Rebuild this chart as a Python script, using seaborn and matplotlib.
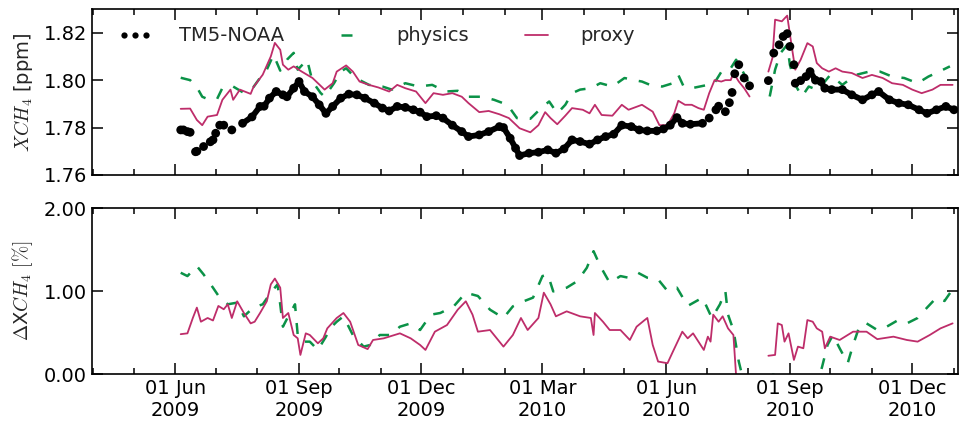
import numpy as np
import pandas as pd
import matplotlib
matplotlib.use("Agg")
import matplotlib.pyplot as plt
import matplotlib.dates as mdates
from matplotlib.lines import Line2D
from matplotlib.ticker import FormatStrFormatter
import seaborn as sns

# ---------------- data (days since 2009-06-01) ----------------
START = pd.Timestamp("2009-06-01")

tm5_day = [4, 6, 9, 11, 15, 16, 21, 26, 28, 30, 33, 36, 42, 50, 57, 63, 66, 70, 75, 80,
           83, 88, 92, 96, 102, 107, 112, 117, 123, 129, 135, 141, 148, 154, 159, 165, 171, 177, 182, 187,
           194, 199, 206, 213, 218, 226, 233, 241, 244, 249, 253, 256, 263, 270, 277, 283, 289, 295, 301, 308,
           314, 320, 326, 332, 339, 345, 351, 358, 363, 368, 373, 377, 383, 392, 397, 402, 404, 409, 412, 414,
           416, 419, 423, 427, 441, 445, 449, 452, 455, 457, 460, 461, 465, 469, 472, 476, 480, 483, 488, 496,
           503, 511, 518, 523, 531, 538, 545, 553, 559, 566, 573, 579]
tm5_xch4 = [1.7790, 1.7790, 1.7783, 1.7780, 1.7698, 1.7700, 1.7720, 1.7740, 1.7748, 1.7776,
            1.7810, 1.7810, 1.7790, 1.7818, 1.7845, 1.7889, 1.7890, 1.7924, 1.7952, 1.7938,
            1.7930, 1.7966, 1.7994, 1.7952, 1.7930, 1.7896, 1.7860, 1.7889, 1.7924, 1.7941,
            1.7938, 1.7924, 1.7903, 1.7882, 1.7870, 1.7889, 1.7885, 1.7875, 1.7865, 1.7846,
            1.7850, 1.7840, 1.7810, 1.7783, 1.7762, 1.7769, 1.7783, 1.7804, 1.7800, 1.7755,
            1.7713, 1.7682, 1.7692, 1.7696, 1.7706, 1.7692, 1.7710, 1.7748, 1.7741, 1.7730,
            1.7748, 1.7762, 1.7772, 1.7810, 1.7804, 1.7790, 1.7786, 1.7786, 1.7794, 1.7810,
            1.7842, 1.7818, 1.7814, 1.7818, 1.7840, 1.7875, 1.7890, 1.7867, 1.7905, 1.7948,
            1.8027, 1.8065, 1.8009, 1.7976, 1.7998, 1.8114, 1.8149, 1.8184, 1.8196, 1.8142,
            1.8065, 1.7987, 1.7998, 1.8015, 1.8036, 1.8000, 1.7994, 1.7966, 1.7960, 1.7960,
            1.7938, 1.7917, 1.7938, 1.7952, 1.7917, 1.7903, 1.7896, 1.7875, 1.7860, 1.7875,
            1.7889, 1.7875]

proxy_day = [4, 11, 16, 20, 24, 31, 35, 41, 43, 48, 56, 58, 65, 71, 74, 78, 80, 84, 88, 94,
             102, 111, 117, 120, 127, 132, 137, 144, 151, 159, 165, 171, 179, 186, 192, 199, 206, 213, 218, 226,
             233, 241, 248, 256, 264, 270, 275, 279, 284, 290, 295, 303, 308, 312, 317, 325, 332, 337, 347, 355,
             360, 366, 371, 374, 379, 384, 389, 393, 397, 401, 406, 409, 413, 415, 419, 423, 427, 441, 444, 446,
             451, 455, 458, 461, 465, 470, 474, 477, 481, 486, 491, 496, 503, 511, 518, 526, 533, 541, 548, 555,
             563, 569, 578]
proxy_xch4 = [1.7879, 1.7880, 1.7832, 1.7810, 1.7846, 1.7853, 1.7917, 1.7960, 1.7917, 1.7960,
              1.7942, 1.7970, 1.8023, 1.8100, 1.8157, 1.8128, 1.8065, 1.8044, 1.8058, 1.8036,
              1.8009, 1.7960, 1.7987, 1.8036, 1.8062, 1.8036, 1.7994, 1.7980, 1.7969, 1.7952,
              1.7980, 1.7966, 1.7952, 1.7903, 1.7945, 1.7938, 1.7945, 1.7930, 1.7903, 1.7865,
              1.7870, 1.7856, 1.7840, 1.7797, 1.7780, 1.7810, 1.7865, 1.7840, 1.7814, 1.7850,
              1.7882, 1.7875, 1.7860, 1.7896, 1.7853, 1.7850, 1.7896, 1.7875, 1.7896, 1.7867,
              1.7810, 1.7810, 1.7860, 1.7913, 1.7896, 1.7896, 1.7882, 1.7875, 1.7945, 1.8000,
              1.7994, 1.8000, 1.8000, 1.8030, 1.7994, 1.7966, 1.7931, 1.8036, 1.8093, 1.8255,
              1.8248, 1.8272, 1.8156, 1.8044, 1.8086, 1.8156, 1.8142, 1.8072, 1.8050, 1.8036,
              1.8050, 1.8036, 1.8030, 1.8009, 1.8022, 1.8009, 1.7987, 1.7980, 1.7960, 1.7945,
              1.7960, 1.7980, 1.7980]

phys_day = [4, 11, 16, 20, 24, 31, 35, 43, 51, 58, 63, 68, 73, 78, 83, 88, 91, 98, 102, 108,
            111, 118, 123, 127, 134, 144, 154, 161, 171, 181, 191, 201, 210, 218, 228, 237, 247, 254, 264, 272,
            278, 284, 290, 295, 301, 309, 316, 325, 334, 341, 347, 353, 362, 370, 374, 378, 384, 396, 400, 407,
            413, 417, 422, 426, 442, 446, 450, 455, 457, 461, 466, 471, 477, 481, 487, 496, 506, 516, 524, 533,
            542, 552, 560, 568, 576]
phys_xch4 = [1.8010, 1.8000, 1.7970, 1.7930, 1.7920, 1.7920, 1.7967, 1.7973, 1.7946, 1.7970,
             1.8010, 1.8044, 1.8107, 1.8040, 1.8086, 1.8115, 1.8044, 1.8086, 1.7994, 1.7946,
             1.7930, 1.7987, 1.8036, 1.8050, 1.8009, 1.7980, 1.7973, 1.7960, 1.7987, 1.7973,
             1.7980, 1.7952, 1.7955, 1.7930, 1.7930, 1.7917, 1.7896, 1.7840, 1.7837, 1.7882,
             1.7910, 1.7860, 1.7896, 1.7945, 1.7960, 1.7966, 1.7987, 1.7973, 1.8009, 1.8000,
             1.7994, 1.7980, 1.7973, 1.7987, 1.8022, 1.7973, 1.7966, 1.7980, 1.7980, 1.8044,
             1.8050, 1.8086, 1.8036, 1.7994, 1.7931, 1.8044, 1.8114, 1.8149, 1.8065, 1.7980,
             1.7931, 1.7973, 1.7960, 1.7980, 1.8022, 1.7980, 1.8022, 1.8036, 1.8036, 1.8015,
             1.8009, 1.7987, 1.8015, 1.8036, 1.8058]

dproxy_day = [4, 9, 13, 16, 19, 24, 28, 32, 36, 39, 42, 46, 51, 56, 59, 63, 68, 71, 74, 78,
              80, 84, 88, 91, 93, 97, 100, 106, 110, 113, 120, 125, 130, 136, 143, 147, 155, 167, 175, 182,
              186, 193, 202, 210, 216, 221, 225, 234, 244, 251, 257, 262, 270, 274, 279, 283, 291, 301, 309, 311,
              312, 318, 323, 331, 338, 343, 349, 351, 355, 359, 366, 370, 377, 381, 385, 393, 396, 398, 400, 404,
              407, 411, 415, 417, 422, 427, 441, 446, 448, 451, 453, 456, 460, 463, 467, 470, 474, 477, 481, 483,
              487, 494, 504, 514, 522, 534, 544, 552, 561, 569, 578]
dproxy_pct = [0.48, 0.49, 0.675, 0.80, 0.63, 0.675, 0.645, 0.82, 0.78, 0.84,
              0.675, 0.876, 0.735, 0.61, 0.63, 0.735, 0.876, 1.08, 1.15, 1.04,
              0.675, 0.735, 0.47, 0.43, 0.23, 0.49, 0.47, 0.37, 0.43, 0.55,
              0.675, 0.735, 0.63, 0.35, 0.30, 0.41, 0.43, 0.49, 0.43, 0.35,
              0.29, 0.51, 0.59, 0.775, 0.876, 0.715, 0.51, 0.53, 0.33, 0.47,
              0.675, 0.53, 0.675, 0.98, 0.84, 0.695, 0.755, 0.695, 0.675, 0.47,
              0.735, 0.63, 0.53, 0.53, 0.41, 0.57, 0.65, 0.675, 0.35, 0.15,
              0.13, 0.27, 0.51, 0.43, 0.49, 0.29, 0.45, 0.39, 0.715, 0.63,
              0.695, 0.55, 0.47, -0.02, -0.15, -0.25, 0.22, 0.23, 0.61, 0.59,
              0.39, 0.49, 0.17, 0.33, 0.31, 0.65, 0.63, 0.55, 0.51, 0.31,
              0.45, 0.41, 0.51, 0.51, 0.42, 0.45, 0.41, 0.39, 0.47, 0.55,
              0.61]

dphys_day = [4, 9, 16, 21, 28, 33, 39, 46, 51, 58, 65, 71, 76, 78, 80, 84, 89, 91, 94, 100,
             106, 112, 115, 120, 125, 132, 140, 145, 152, 160, 167, 175, 182, 190, 197, 207, 216, 225, 234, 244,
             251, 259, 266, 273, 277, 281, 291, 299, 306, 311, 316, 323, 331, 337, 344, 351, 359, 366, 373, 381,
             392, 399, 405, 409, 411, 415, 419, 422, 426, 441, 445, 450, 457, 465, 474, 481, 485, 489, 494, 500,
             504, 509, 514, 522, 529, 537, 544, 552, 559, 566, 572, 578]
dphys_pct = [1.22, 1.18, 1.30, 1.20, 1.04, 0.92, 0.84, 0.86, 0.695, 0.80,
             0.84, 0.98, 1.08, 0.84, 0.57, 0.695, 0.84, 0.47, 0.39, 0.39,
             0.29, 0.45, 0.55, 0.63, 0.695, 0.47, 0.33, 0.35, 0.47, 0.47,
             0.57, 0.61, 0.53, 0.715, 0.735, 0.815, 0.98, 0.94, 0.775, 0.675,
             0.815, 0.876, 0.92, 1.18, 1.20, 0.995, 1.04, 1.12, 1.28, 1.48,
             1.30, 1.10, 1.18, 1.16, 1.22, 1.16, 1.14, 1.00, 1.04, 0.82,
             0.92, 0.675, 0.84, 1.00, 0.715, 0.53, 0.15, -0.05, -0.30, -0.40,
             0.02, -0.30, -0.15, -0.50, -0.30, 0.09, 0.35, 0.47, 0.31, 0.13,
             0.35, 0.59, 0.61, 0.53, 0.57, 0.645, 0.61, 0.675, 0.80, 0.92,
             0.88, 1.02]

labels = ["TM5-NOAA", "physics", "proxy"]
GAP_DAY = 435  # data gap in early August 2010
# TM5 periods with dense (near-daily) sampling, drawn as a continuous band of dots
TM5_DENSE = [(0, 12), (50, 392), (470, 600)]

GREEN = "#0B9247"
CRIMSON = "#BE2D6A"


def frame(days, vals):
    d = np.asarray(days)
    return pd.DataFrame({"date": START + pd.to_timedelta(d, unit="D"),
                         "val": np.asarray(vals, dtype=float),
                         "day": d,
                         "seg": (d >= GAP_DAY).astype(int)})


tm5_df = frame(tm5_day, tm5_xch4)
band = np.full(len(tm5_df), -1)
for i, (a, b) in enumerate(TM5_DENSE):
    band[(tm5_df["day"] >= a) & (tm5_df["day"] <= b)] = i
tm5_df["band"] = band
tm5_band_df = tm5_df[tm5_df["band"] >= 0]

proxy_df = frame(proxy_day, proxy_xch4)
phys_df = frame(phys_day, phys_xch4)
dproxy_df = frame(dproxy_day, dproxy_pct)
dphys_df = frame(dphys_day, dphys_pct)

# ---------------- style ----------------
sns.set_style("ticks")
plt.rcParams.update({
    "font.family": ["DejaVu Sans"],
    "mathtext.fontset": "cm",
    "font.size": 14,
    "axes.linewidth": 1.2,
    "xtick.direction": "in", "ytick.direction": "in",
    "xtick.top": True, "ytick.right": True,
    "xtick.major.size": 8, "xtick.minor.size": 4.5,
    "ytick.major.size": 8, "ytick.minor.size": 4.5,
    "xtick.major.width": 1.1, "xtick.minor.width": 1.1,
    "ytick.major.width": 1.1, "ytick.minor.width": 1.1,
    "xtick.labelsize": 14, "ytick.labelsize": 14,
    "xtick.color": "black", "ytick.color": "black",
    "axes.edgecolor": "black",
})

fig = plt.figure(figsize=(9.66, 4.24), dpi=100)
ax1 = fig.add_axes([0.0952, 0.5873, 0.8965, 0.3915])
ax2 = fig.add_axes([0.0952, 0.1179, 0.8965, 0.3915])

GREEN_LW = 1.8
GREEN_DASH = (4.4, 4.8)

# top panel
sns.lineplot(data=tm5_band_df, x="date", y="val", units="band", estimator=None, ax=ax1,
             color="black", lw=4.2, legend=False, zorder=3)
sns.scatterplot(data=tm5_df, x="date", y="val", ax=ax1, color="black", s=40,
                linewidth=0, edgecolor="none", legend=False, zorder=3)
n0 = len(ax1.lines)
sns.lineplot(data=phys_df, x="date", y="val", units="seg", estimator=None, ax=ax1,
             color=GREEN, lw=GREEN_LW, legend=False, zorder=2)
for ln in ax1.lines[n0:]:
    ln.set_dashes(GREEN_DASH)
sns.lineplot(data=proxy_df, x="date", y="val", units="seg", estimator=None, ax=ax1,
             color=CRIMSON, lw=1.3, legend=False, zorder=2.5)

# bottom panel
n0 = len(ax2.lines)
sns.lineplot(data=dphys_df, x="date", y="val", units="seg", estimator=None, ax=ax2,
             color=GREEN, lw=GREEN_LW, legend=False)
for ln in ax2.lines[n0:]:
    ln.set_dashes(GREEN_DASH)
sns.lineplot(data=dproxy_df, x="date", y="val", units="seg", estimator=None, ax=ax2,
             color=CRIMSON, lw=1.3, legend=False)

for ax in (ax1, ax2):
    ax.set_xlim(pd.Timestamp("2009-03-31"), pd.Timestamp("2011-01-04"))
    ax.xaxis.set_major_locator(mdates.MonthLocator(bymonth=[3, 6, 9, 12], bymonthday=1))
    ax.xaxis.set_minor_locator(mdates.MonthLocator(bymonthday=1))
    ax.xaxis.set_major_formatter(mdates.DateFormatter("%d %b\n%Y"))
    ax.set_xlabel("")
    ax.yaxis.set_major_formatter(FormatStrFormatter("%.2f"))
    ax.tick_params(which="both", direction="in", top=True, right=True)
    ax.yaxis.set_label_coords(-0.066, 0.5)

ax1.tick_params(labelbottom=False)
ax1.set_ylim(1.76, 1.83)
ax1.set_yticks([1.76, 1.78, 1.80, 1.82])
ax1.set_ylabel(r"$XCH_4$ [ppm]")

ax2.set_ylim(0, 2)
ax2.set_yticks([0, 1, 2])
ax2.set_ylabel(r"$\Delta$X$CH_4$ $[\%]$")
for lab in ax2.get_xticklabels():
    lab.set_horizontalalignment("center")

h1 = Line2D([], [], color="black", marker="o", ls="none", ms=4.5, markeredgewidth=0)
h2 = Line2D([], [], color=GREEN, lw=GREEN_LW, dashes=GREEN_DASH)
h3 = Line2D([], [], color=CRIMSON, lw=1.3)
ax1.legend([h1, h2, h3], labels, ncol=3, loc="upper left", bbox_to_anchor=(0.01, 1.0),
           frameon=False, numpoints=3, handlelength=1.75, handletextpad=1.4,
           columnspacing=2.6, fontsize=14)

fig.savefig("out.png", dpi=100)
